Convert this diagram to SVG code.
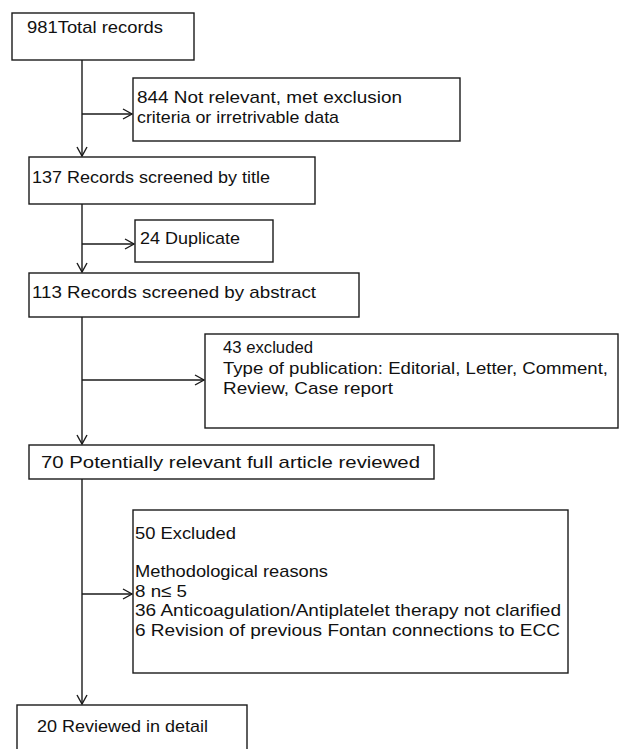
<svg xmlns="http://www.w3.org/2000/svg" width="621" height="749" viewBox="0 0 621 749">
<style>
.box{fill:#fff;stroke:#1a1a1a;stroke-width:1.4}
.t{font-family:"Liberation Sans",Arial,sans-serif;font-size:17px;fill:#111}
.c{fill:none;stroke:#1a1a1a;stroke-width:1.4}
</style>
<defs>
<marker id="ah" markerUnits="userSpaceOnUse" markerWidth="12" markerHeight="12" refX="10" refY="6" orient="auto">
<path d="M1,1 L10,6 L1,11" fill="none" stroke="#1a1a1a" stroke-width="1.4"/>
</marker>
</defs>
<rect width="621" height="749" fill="#fff"/>
<g id="connectors">
<line class="c" x1="82" y1="60" x2="82" y2="156" marker-end="url(#ah)"/>
<line class="c" x1="82" y1="114" x2="132" y2="114" marker-end="url(#ah)"/>
<line class="c" x1="82" y1="204" x2="82" y2="272" marker-end="url(#ah)"/>
<line class="c" x1="82" y1="244" x2="134" y2="244" marker-end="url(#ah)"/>
<line class="c" x1="82" y1="317" x2="82" y2="444" marker-end="url(#ah)"/>
<line class="c" x1="82" y1="380" x2="204" y2="380" marker-end="url(#ah)"/>
<line class="c" x1="82" y1="479" x2="82" y2="704" marker-end="url(#ah)"/>
<line class="c" x1="82" y1="594" x2="132" y2="594" marker-end="url(#ah)"/>
</g>
<g id="n981">
<rect class="box" x="12" y="13" width="182" height="47"/>
<text class="t" x="27" y="33" textLength="136" lengthAdjust="spacingAndGlyphs">981Total records</text>
</g>
<g id="n844">
<rect class="box" x="133" y="78" width="327" height="63"/>
<text class="t" x="137" y="103" textLength="265" lengthAdjust="spacingAndGlyphs">844 Not relevant, met exclusion</text>
<text class="t" x="137" y="123" textLength="202" lengthAdjust="spacingAndGlyphs">criteria or irretrivable data</text>
</g>
<g id="n137">
<rect class="box" x="29" y="157" width="286" height="47"/>
<text class="t" x="32" y="183" textLength="238" lengthAdjust="spacingAndGlyphs">137 Records screened by title</text>
</g>
<g id="n24">
<rect class="box" x="135" y="220" width="138" height="42"/>
<text class="t" x="140" y="244" textLength="100" lengthAdjust="spacingAndGlyphs">24 Duplicate</text>
</g>
<g id="n113">
<rect class="box" x="29" y="273" width="330" height="44"/>
<text class="t" x="32" y="298" textLength="284" lengthAdjust="spacingAndGlyphs">113 Records screened by abstract</text>
</g>
<g id="n43">
<rect class="box" x="205" y="334" width="413" height="94"/>
<text class="t" x="223" y="353" textLength="90" lengthAdjust="spacingAndGlyphs">43 excluded</text>
<text class="t" x="223" y="374" textLength="385" lengthAdjust="spacingAndGlyphs">Type of publication: Editorial, Letter, Comment,</text>
<text class="t" x="223" y="394" textLength="170" lengthAdjust="spacingAndGlyphs">Review, Case report</text>
</g>
<g id="n70">
<rect class="box" x="29" y="445" width="405" height="34"/>
<text class="t" x="41" y="468" textLength="379" lengthAdjust="spacingAndGlyphs">70 Potentially relevant full article reviewed</text>
</g>
<g id="n50">
<rect class="box" x="133" y="510" width="435" height="163"/>
<text class="t" x="135" y="539" textLength="101" lengthAdjust="spacingAndGlyphs">50 Excluded</text>
<text class="t" x="135" y="577" textLength="193" lengthAdjust="spacingAndGlyphs">Methodological reasons</text>
<text class="t" x="135" y="597" textLength="52" lengthAdjust="spacingAndGlyphs">8 n≤ 5</text>
<text class="t" x="135" y="616" textLength="426" lengthAdjust="spacingAndGlyphs">36 Anticoagulation/Antiplatelet therapy not clarified</text>
<text class="t" x="135" y="636" textLength="425" lengthAdjust="spacingAndGlyphs">6 Revision of previous Fontan connections to ECC</text>
</g>
<g id="n20">
<rect class="box" x="17" y="705" width="230" height="60"/>
<text class="t" x="37" y="732" textLength="171" lengthAdjust="spacingAndGlyphs">20 Reviewed in detail</text>
</g>
</svg>
